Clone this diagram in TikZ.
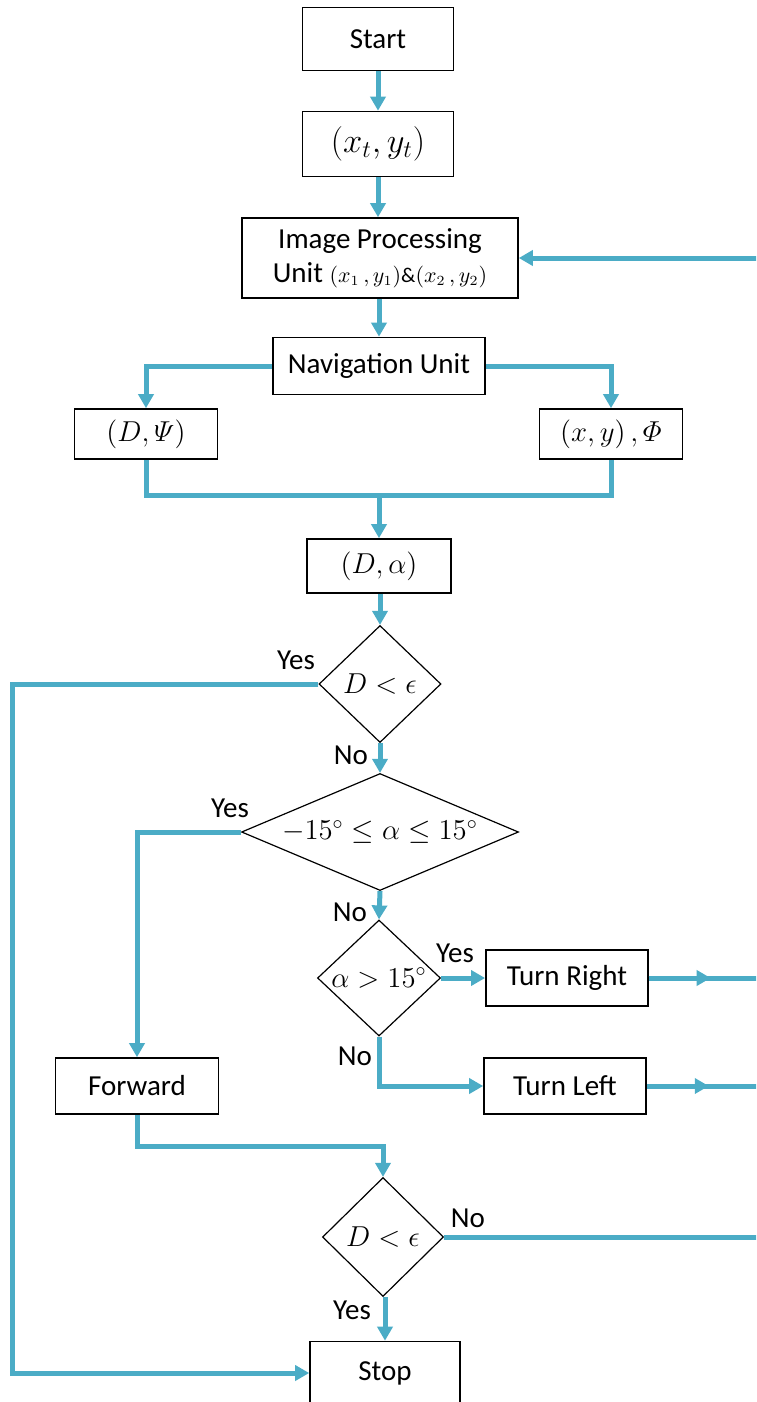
\documentclass[tikz,border=0pt]{standalone}
\usepackage{fontspec}
\setmainfont{Carlito}
\usepackage{amsmath}
\usetikzlibrary{positioning, arrows.meta, shapes.geometric, calc}
\definecolor{flowblue}{RGB}{75,172,198}
\newcommand{\diatext}[1]{\makebox[0pt]{#1}}

\begin{document}
\begin{tikzpicture}[
    x=0.5pt, y=-0.5pt,
    font=\fontsize{14.5}{17}\selectfont,
    box/.style={draw, rectangle, line width=0.8pt, inner sep=0pt, align=center},
    test/.style={draw, diamond, line width=0.6pt, inner sep=0pt},
    flow/.style={-{Triangle[length=7pt, width=7.5pt]}, line width=2.5pt, flowblue},
    link/.style={line width=2.5pt, flowblue},
    lbl/.style={inner sep=0pt}
]
    \useasboundingbox (0,0) rectangle (756,1402);
    \clip (0,0) rectangle (756,1402);

    % main column
    \node[box, minimum width=75.5pt, minimum height=31.5pt] (start) at (378,39) {Start};
    \node[box, minimum width=75.5pt, minimum height=32.5pt] (target) at (378,144) {\fontsize{17}{20}\selectfont$(x_t,y_t)$};
    \node[box, minimum width=138pt, minimum height=40pt] (imgproc) at (380,258)
        {Image Processing\\Unit {\fontsize{10.5}{12}\selectfont$(x_1\,,y_1)$\&$(x_2\,,y_2)$}};
    \node[box, minimum width=106pt, minimum height=28.5pt] (nav) at (379,366) {Navigation Unit};
    \node[box, minimum width=71.5pt, minimum height=25pt] (dpsi) at (146,434) {$(D,\varPsi)$};
    \node[box, minimum width=71.5pt, minimum height=25pt] (xyphi) at (611,434) {$(x,y)\,,\varPhi$};
    \node[box, minimum width=72pt, minimum height=27pt] (dalpha) at (379,566) {$(D,\alpha)$};
    \coordinate (merge) at (379,495);

    % decisions
    \node[test, minimum width=61pt, minimum height=58.5pt] (chk1) at (380,684) {\diatext{$D<\epsilon$}};
    \node[test, minimum width=138.5pt, minimum height=58.5pt] (chk2) at (380,832) {\diatext{$-15^{\circ}\leq\alpha\leq15^{\circ}$}};
    \node[test, minimum width=61.5pt, minimum height=58pt] (chk3) at (379,978) {\diatext{$\alpha>15^{\circ}$}};
    \node[test, minimum width=60.5pt, minimum height=59.5pt] (chk4) at (383,1237) {\diatext{$D<\epsilon$}};

    % actions
    \node[box, minimum width=81pt, minimum height=28pt] (right) [right=22pt of chk3] {Turn Right};
    \node[box, minimum width=81pt, minimum height=28pt] (left) at (565,1086) {Turn Left};
    \node[box, minimum width=81.5pt, minimum height=28pt] (fwd) at (137,1086) {Forward};
    \node[box, minimum width=75pt, minimum height=31.5pt] (stop) at (385,1373) {Stop};

    % return path and left rail
    \coordinate (back) at (790,0);
    \coordinate (rail) at (12,0);

    \draw[flow] (start.south) -- (target.north);
    \draw[flow] (target.south) -- (target.south |- imgproc.north);
    \draw[flow] (imgproc.south -| nav.north) -- (nav.north);
    \draw[flow] (nav.west) -| (dpsi.north);
    \draw[flow] (nav.east) -| (xyphi.north);
    \draw[link] (dpsi.south) |- (merge) -| (xyphi.south);
    \draw[flow] (merge) -- (merge |- dalpha.north);
    \draw[flow] (dalpha.south -| chk1.north) -- (chk1.north);

    \draw[flow] (chk1.west) -| (rail |- stop.west) -- (stop.west);
    \draw[flow] (chk1.south) -- (chk2.north);
    \draw[flow] (chk2.west) -| (fwd.north);
    \draw[flow] (chk2.south) -- (chk3.north);
    \draw[flow] (chk3.east) -- (right.west);
    \draw[flow] (chk3.south) |- (left.west);
    \draw[flow] (fwd.south) -- ++(0,32) -| (chk4.north);
    \draw[flow] (chk4.south -| stop.north) -- (stop.north);

    \draw[link] (right.east) -- (right.east -| back);
    \draw[flow] (right.east) -- ++(62,0);
    \draw[link] (left.east) -- (left.east -| back);
    \draw[flow] (left.east) -- ++(62,0);
    \draw[link] (chk4.east) -- (chk4.east -| back);
    \draw[link] (back |- chk4.east) -- (back |- imgproc.east);
    \draw[flow] (back |- imgproc.east) -- (imgproc.east);

    % branch labels
    \node[lbl] (yes1) at (296,660) {Yes};
    \node[lbl] (no1) at (351,755) {No};
    \node[lbl] (yes2) at (230,808) {Yes};
    \node[lbl] (no2) at (350,912) {No};
    \node[lbl] (yes3) at (455,953) {Yes};
    \node[lbl] (no3) at (355,1056) {No};
    \node[lbl] (no4) at (468,1218) {No};
    \node[lbl] (yes4) at (352,1310) {Yes};
\end{tikzpicture}
\end{document}
